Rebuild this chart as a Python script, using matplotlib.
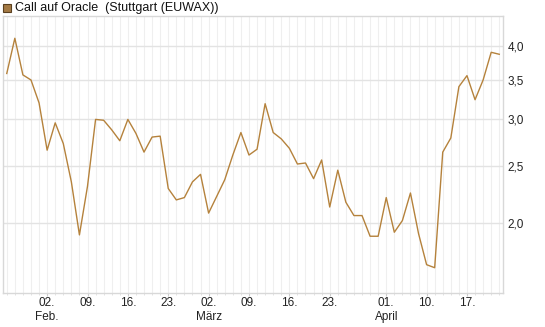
import numpy as np
import pandas as pd
import matplotlib.pyplot as plt
from matplotlib.ticker import FixedLocator, NullLocator
from matplotlib.patches import Rectangle

plt.rcParams['font.family'] = ['Liberation Sans', 'DejaVu Sans']

# trading days (Stuttgart, Easter holidays removed)
dates = pd.bdate_range('2026-01-26', '2026-04-23')
dates = dates[~dates.isin(pd.to_datetime(['2026-04-03', '2026-04-06']))]

prices = [3.59, 4.12, 3.57, 3.50, 3.20, 2.66, 2.96, 2.73, 2.35, 1.91,
          2.31, 3.00, 2.99, 2.88, 2.76, 3.00, 2.84, 2.64, 2.80, 2.81,
          2.29, 2.19, 2.21, 2.35, 2.42, 2.08, 2.22, 2.37, 2.61, 2.85,
          2.61, 2.67, 3.19, 2.85, 2.78, 2.68, 2.52, 2.53, 2.38, 2.56,
          2.13, 2.46, 2.17, 2.06, 2.06, 1.90, 1.90, 2.21, 1.93, 2.02,
          2.25, 1.92, 1.70, 1.68, 2.64, 2.79, 3.41, 3.56, 3.24, 3.50,
          3.90, 3.87]

tick_dates = ['2026-02-02', '2026-02-09', '2026-02-16', '2026-02-23',
              '2026-03-02', '2026-03-09', '2026-03-16', '2026-03-23',
              '2026-04-01', '2026-04-10', '2026-04-17']
tick_labels = ['02.\nFeb.', '09.', '16.', '23.', '02.\nMärz', '09.', '16.', '23.',
               '01.\nApril', '10.', '17.']
y_ticks = [2.0, 2.5, 3.0, 3.5, 4.0]
y_labels = ['2,0', '2,5', '3,0', '3,5', '4,0']

line_color = '#b5823c'
grid_color = '#e3e3e3'

x = np.arange(len(prices))
tick_pos = [list(dates).index(pd.Timestamp(d)) for d in tick_dates]

fig = plt.figure(figsize=(5.45, 3.27), dpi=100)
ax = fig.add_axes([0.005, 0.103, 0.9185, 0.849])

ax.plot(x, prices, color=line_color, lw=1.0)
ax.set_yscale('log')
ax.set_xlim(-0.5, len(prices) - 0.5)
ax.set_ylim(1.52, 4.5)

ax.yaxis.set_major_locator(FixedLocator(y_ticks))
ax.yaxis.set_minor_locator(NullLocator())
ax.set_yticklabels(y_labels)
ax.yaxis.tick_right()
ax.tick_params(axis='y', length=0, pad=3, labelsize=8.5, colors='#222222')

ax.set_xticks(tick_pos)
ax.set_xticklabels(tick_labels, linespacing=1.15)
ax.xaxis.set_minor_locator(FixedLocator(x))
ax.tick_params(axis='x', which='major', length=2, color='#cccccc', pad=1,
               labelsize=8.5, labelcolor='#222222')
ax.tick_params(axis='x', which='minor', length=1.5, color='#dddddd')
for lbl in ax.get_xticklabels():
    lbl.set_verticalalignment('top')

ax.grid(True, axis='x', which='both', color='#efefef', lw=0.8)
ax.grid(True, axis='y', which='major', color=grid_color, lw=1.0)
ax.set_axisbelow(True)
for s in ax.spines.values():
    s.set_color('#d8d8d8')
    s.set_linewidth(1.0)

# legend
fig.patches.append(Rectangle((3 / 545, 1 - 12 / 327), 8 / 545, 8 / 327,
                             transform=fig.transFigure, facecolor='#a47a44',
                             edgecolor='#5a4020', lw=0.8))
fig.text(15 / 545, 1 - 8 / 327, 'Call auf Oracle  (Stuttgart (EUWAX))',
         fontsize=9, va='center', ha='left', color='#111111')

fig.savefig('out.png', dpi=100)
